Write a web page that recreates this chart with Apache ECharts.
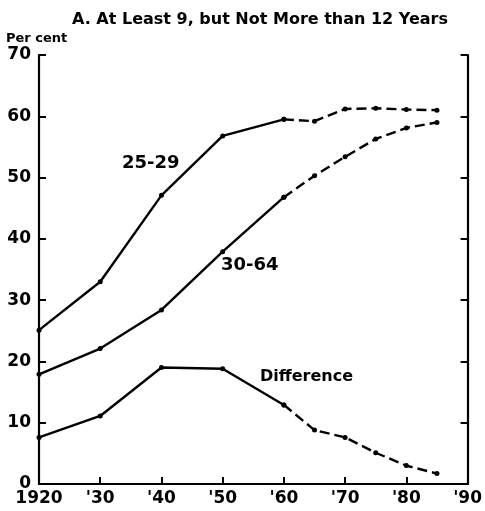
<!DOCTYPE html>
<html><head><meta charset="utf-8">
<script src="https://cdn.jsdelivr.net/npm/echarts@6/dist/echarts.min.js"></script>
<style>html,body{margin:0;padding:0;background:#fff}#c{width:485px;height:511px}</style>
</head><body><div id="c"></div>
<script>
const years = [1920, 1930, 1940, 1950, 1960, 1965, 1970, 1975, 1980, 1985];
const age2529 = [25.1, 33.0, 47.1, 56.8, 59.5, 59.2, 61.2, 61.3, 61.1, 61.0];
const age3064 = [17.9, 22.1, 28.4, 37.9, 46.8, 50.3, 53.4, 56.3, 58.1, 59.0];
const difference = [7.6, 11.1, 19.0, 18.8, 12.9, 8.8, 7.6, 5.1, 3.0, 1.7];
const xTickLabels = {1920:'1920',1930:"'30",1940:"'40",1950:"'50",1960:"'60",1970:"'70",1980:"'80",1990:"'90"};
const yTicks = [0,10,20,30,40,50,60,70];
const splitYear = 1960;

const FONT = '"DejaVu Sans", sans-serif';
function part(vals, solid) {
  const out = [];
  years.forEach((y, i) => {
    if (solid ? y <= splitYear : y >= splitYear) out.push([y, vals[i]]);
  });
  return out;
}
function mk(vals) {
  return [
    {type:'line', data: part(vals, true), symbol:'circle', symbolSize:5, itemStyle:{color:'#000'},
     lineStyle:{color:'#000', width:2.4, type:'solid'}, animation:false, z:3},
    {type:'line', data: part(vals, false), symbol:'circle', symbolSize:5, itemStyle:{color:'#000'},
     lineStyle:{color:'#000', width:2.4, type:[10,5]}, animation:false, z:3}
  ];
}
const chart = echarts.init(document.getElementById('c'));
chart.setOption({
  backgroundColor:'#fff',
  title:{text:'A. At Least 9, but Not More than 12 Years', left:255, textAlign:'center', top:7,
    textStyle:{fontFamily:FONT, fontSize:16, fontWeight:'bold', color:'#000'}},
  grid:{left:39, right:15, top:55, bottom:27},
  xAxis:[{type:'value', min:1920, max:1990, interval:10,
    axisLine:{lineStyle:{color:'#000', width:2.2}},
    axisTick:{inside:true, length:7, lineStyle:{color:'#000', width:2}},
    axisLabel:{formatter:v=>xTickLabels[v]||'', color:'#000', fontFamily:FONT, fontSize:17, fontWeight:'bold', margin:6},
    splitLine:{show:false}},
   {type:'value', position:'top', min:1920, max:1990,
    axisLine:{lineStyle:{color:'#000', width:2.2}}, axisTick:{show:false}, axisLabel:{show:false}, splitLine:{show:false}}],
  yAxis:[{type:'value', min:0, max:70, interval:10,
    axisLine:{show:true, lineStyle:{color:'#000', width:2.2}},
    axisTick:{show:true, inside:true, length:7, lineStyle:{color:'#000', width:2}},
    axisLabel:{formatter:v=>yTicks.includes(v)?String(v):'', color:'#000', fontFamily:FONT, fontSize:17, fontWeight:'bold', margin:8},
    splitLine:{show:false}},
   {type:'value', position:'right', min:0, max:70, interval:10,
    axisLine:{show:true, lineStyle:{color:'#000', width:2.2}},
    axisTick:{show:true, inside:true, length:7, lineStyle:{color:'#000', width:2}},
    axisLabel:{show:false}, splitLine:{show:false}}],
  graphic:[
    {type:'text', left:6, top:32, style:{text:'Per cent', fill:'#000', font:'bold 13px '+FONT}},
    {type:'text', left:122, top:154, style:{text:'25-29', fill:'#000', font:'bold 18px '+FONT}},
    {type:'text', left:221, top:256, style:{text:'30-64', fill:'#000', font:'bold 18px '+FONT}},
    {type:'text', left:260, top:369, style:{text:'Difference', fill:'#000', font:'bold 16px '+FONT}}
  ],
  series:[...mk(age2529), ...mk(age3064), ...mk(difference)]
});
</script></body></html>
